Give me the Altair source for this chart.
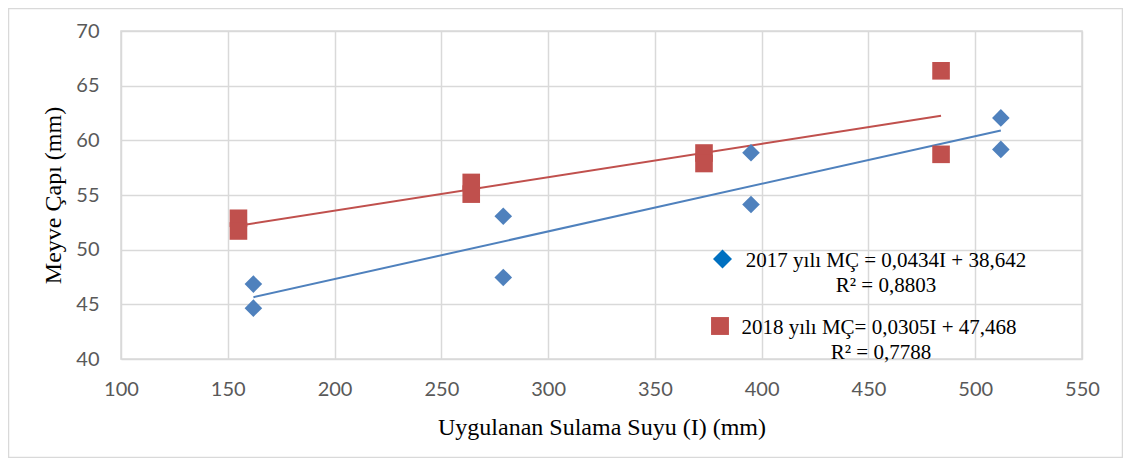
import altair as alt
import pandas as pd

# --- data ---
irr_2017 = [162, 162, 279, 279, 395, 395, 512, 512]
dia_2017 = [46.85, 44.65, 53.06, 47.46, 58.87, 54.13, 62.05, 59.17]
irr_2018 = [155, 155, 264, 264, 373, 373, 484, 484]
dia_2018 = [52.87, 51.71, 56.15, 55.08, 58.84, 57.88, 66.36, 58.72]

years = ["2017", "2018"]
eq_labels = ["2017 yılı MÇ = 0,0434I + 38,642", "2018 yılı MÇ= 0,0305I + 47,468"]
r2_labels = ["R² = 0,8803", "R² = 0,7788"]

x_ticks = [100, 150, 200, 250, 300, 350, 400, 450, 500, 550]
y_ticks = [40, 45, 50, 55, 60, 65, 70]

x_title = "Uygulanan Sulama Suyu (I) (mm)"
y_title = "Meyve Çapı (mm)"

df = pd.DataFrame({
    "irr": irr_2017 + irr_2018,
    "dia": dia_2017 + dia_2018,
    "year": [years[0]] * len(irr_2017) + [years[1]] * len(irr_2018),
})

W, H = 961, 328
PAD = {"left": 113, "top": 23, "right": 41, "bottom": 99}

GRID = "#D9D9D9"
BLUE = "#4F81BD"
RED = "#C0504D"
LEG_BLUE = "#0070C0"

xscale = alt.Scale(domain=[100, 550], nice=False, zero=False)
yscale = alt.Scale(domain=[40, 70], nice=False, zero=False)
color = alt.Color("year:N", scale=alt.Scale(domain=years, range=[BLUE, RED]), legend=None)
shape = alt.Shape("year:N", scale=alt.Scale(domain=years, range=["diamond", "square"]), legend=None)

base = alt.Chart(df)

xenc = alt.X("irr:Q", scale=xscale, title=x_title,
             axis=alt.Axis(values=x_ticks, labelFlush=False, labelOverlap=False,
                           labelPadding=20, titleBaseline="alphabetic", titleY=75))
yenc = alt.Y("dia:Q", scale=yscale, title=y_title,
             axis=alt.Axis(values=y_ticks, labelPadding=22, titleBaseline="alphabetic",
                           titleX=-61, titleAngle=-90))

lines = base.transform_regression("irr", "dia", groupby=["year"]).mark_line(strokeWidth=2).encode(
    x=xenc, y=yenc, color=color
)
points = base.mark_point(filled=True, opacity=1, size=310).encode(
    x="irr:Q", y="dia:Q", color=color, shape=shape
)

one = pd.DataFrame({"k": [0]})
frame = alt.Chart(one).mark_rect(fill=None, stroke=GRID, strokeWidth=1.5).encode(
    x=alt.value(-112.5), x2=alt.value(W + PAD["right"] - 0.5),
    y=alt.value(-22.5), y2=alt.value(H + PAD["bottom"] - 0.5)
)

def txt(s, x, y):
    return alt.Chart(pd.DataFrame({"t": [s]})).mark_text(
        font="Liberation Serif", fontSize=21, color="#000000", align="center", baseline="alphabetic"
    ).encode(x=alt.value(x), y=alt.value(y), text="t:N")

def sym(shp, col, x, y, size):
    return alt.Chart(one).mark_point(filled=True, opacity=1, shape=shp, color=col, size=size).encode(
        x=alt.value(x), y=alt.value(y)
    )

legend = [
    sym("diamond", LEG_BLUE, 601.5, 228, 360),
    txt(eq_labels[0], 765, 235.5),
    txt(r2_labels[0], 765, 261),
    sym("square", RED, 599, 295, 320),
    txt(eq_labels[1], 758, 303),
    txt(r2_labels[1], 760, 328),
]

chart = alt.layer(frame, lines, points, *legend).properties(
    width=W, height=H, padding=PAD, autosize=alt.AutoSizeParams(type="none")
).configure_view(stroke=GRID, strokeWidth=1.5).configure_axis(
    domain=False, ticks=False, grid=True, gridColor=GRID, gridWidth=1.5,
    labelFont="Lato", labelFontSize=20, labelColor="#595959",
    titleFont="Liberation Serif", titleFontSize=24, titleFontWeight="normal", titleColor="#000000"
)

chart.save("out.html", embed_options={"renderer": "svg", "actions": False})
